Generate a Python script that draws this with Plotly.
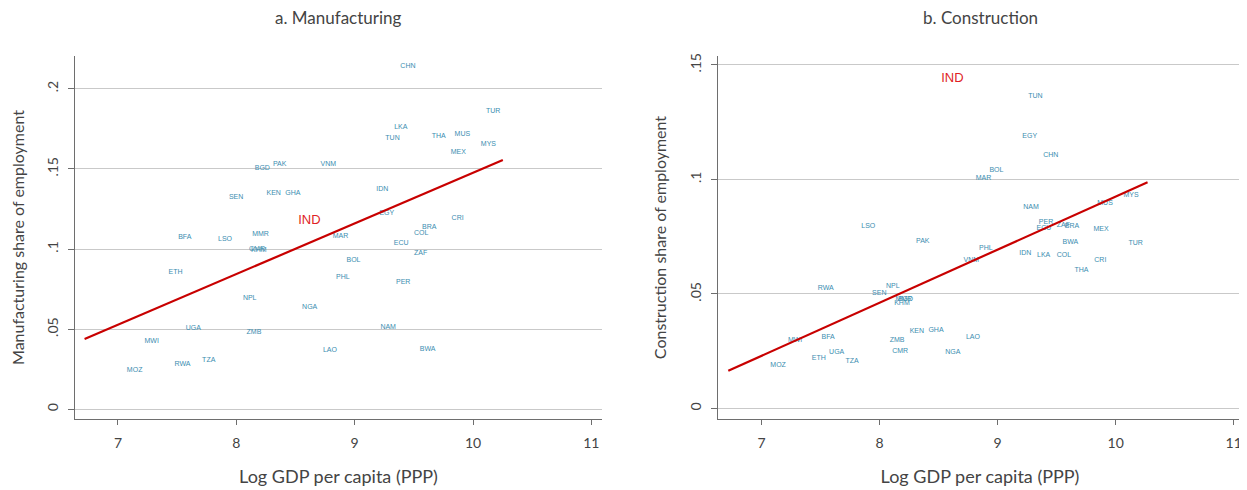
import plotly.graph_objects as go

# ---- data ----
countries = ["CHN", "TUR", "LKA", "TUN", "THA", "MUS", "MYS", "MEX", "IDN", "BGD",
             "PAK", "VNM", "SEN", "KEN", "GHA", "EGY", "BFA", "LSO", "MMR", "KHM",
             "CMR", "MAR", "ECU", "BRA", "COL", "CRI", "ZAF", "BOL", "PHL", "PER",
             "NGA", "NAM", "LAO", "BWA", "ETH", "NPL", "UGA", "ZMB", "MWI", "TZA",
             "RWA", "MOZ"]
log_gdp = [9.45, 10.17, 9.39, 9.32, 9.71, 9.91, 10.13, 9.876, 9.234, 8.22,
           8.366, 8.778, 7.998, 8.316, 8.478, 9.272, 7.565, 7.905, 8.205, 8.19,
           8.175, 8.88, 9.393, 9.63, 9.562, 9.87, 9.557, 8.99, 8.90, 9.41,
           8.62, 9.283, 8.791, 9.617, 7.486, 8.113, 7.637, 8.149, 7.285, 7.767,
           7.545, 7.141]
mfg_share = [0.2142, 0.1860, 0.1760, 0.1688, 0.1701, 0.1713, 0.1651, 0.1601, 0.1372, 0.1507,
             0.1532, 0.1526, 0.1326, 0.1351, 0.1351, 0.1223, 0.1071, 0.1064, 0.1092, 0.0992,
             0.0997, 0.1077, 0.1036, 0.1133, 0.1096, 0.1189, 0.0971, 0.0933, 0.0827, 0.0796,
             0.0640, 0.0515, 0.0366, 0.0372, 0.0858, 0.0696, 0.0509, 0.0484, 0.0428, 0.0309,
             0.0284, 0.0247]
con_share = [0.1104, 0.0722, 0.0668, 0.1365, 0.0604, 0.0895, 0.0930, 0.0781, 0.0677, 0.0476,
             0.0729, 0.0649, 0.0502, 0.0336, 0.0340, 0.1190, 0.0310, 0.0794, 0.0478, 0.0461,
             0.0249, 0.1004, 0.0789, 0.0794, 0.0668, 0.0648, 0.0800, 0.1039, 0.0698, 0.0811,
             0.0244, 0.0877, 0.0310, 0.0726, 0.0220, 0.0533, 0.0244, 0.0297, 0.0296, 0.0205,
             0.0524, 0.0188]

ind_label = ["IND"]
ind_log_gdp = [8.617]
ind_mfg = [0.1179]
ind_con = [0.1438]

mfg_fit_x = [6.718, 10.252]
mfg_fit_y = [0.0439, 0.1555]
con_fit_x = [6.719, 10.270]
con_fit_y = [0.01646, 0.0988]

x_ticks = [7, 8, 9, 10, 11]
mfg_yticks = [0, 0.05, 0.10, 0.15, 0.20]
mfg_yticklabels = ["0", ".05", ".1", ".15", ".2"]
con_yticks = [0, 0.05, 0.10, 0.15]
con_yticklabels = ["0", ".05", ".1", ".15"]

# ---- styles ----
FONT = "Lato, 'Open Sans', sans-serif"
LABEL_COLOR = "#3a8db0"
IND_COLOR = "#e01f26"
LINE_COLOR = "#c80000"
TEXT_COLOR = "#444444"
AXIS_COLOR = "#6e6e6e"
GRID_COLOR = "#c9c9c9"

fig = go.Figure()

for xa, ya, share, ind_y, fx, fy in [
    ("x", "y", mfg_share, ind_mfg, mfg_fit_x, mfg_fit_y),
    ("x2", "y2", con_share, ind_con, con_fit_x, con_fit_y),
]:
    fig.add_trace(go.Scatter(
        x=log_gdp, y=share, text=countries, mode="text",
        textposition="middle center",
        textfont=dict(family="Liberation Sans, Arial, sans-serif", size=7, color=LABEL_COLOR),
        xaxis=xa, yaxis=ya, showlegend=False, hoverinfo="skip"))
    fig.add_trace(go.Scatter(
        x=fx, y=fy, mode="lines", line=dict(color=LINE_COLOR, width=2.2),
        xaxis=xa, yaxis=ya, showlegend=False, hoverinfo="skip"))
    fig.add_trace(go.Scatter(
        x=ind_log_gdp, y=ind_y, text=ind_label, mode="text",
        textposition="middle center",
        textfont=dict(family="Liberation Sans, Arial, sans-serif", size=13, color=IND_COLOR),
        xaxis=xa, yaxis=ya, showlegend=False, hoverinfo="skip"))

common_x = dict(
    tickvals=x_ticks, ticks="outside", ticklen=5, tickcolor=AXIS_COLOR,
    showline=True, linecolor=AXIS_COLOR, linewidth=1, showgrid=False, zeroline=False,
    tickfont=dict(family=FONT, size=14, color=TEXT_COLOR), ticklabelstandoff=6,
    title=dict(text="Log GDP per capita (PPP)", font=dict(family=FONT, size=18, color=TEXT_COLOR),
               standoff=20),
    automargin=False,
)
common_y = dict(
    ticks="outside", ticklen=6, tickcolor=AXIS_COLOR, tickangle=-90,
    showline=True, linecolor=AXIS_COLOR, linewidth=1, showgrid=True,
    gridcolor=GRID_COLOR, gridwidth=1.3, zeroline=False,
    tickfont=dict(family=FONT, size=14, color=TEXT_COLOR), ticklabelstandoff=4,
    automargin=False,
)

# the page body adds an 8px offset, so the figure is 8px smaller and margins compensate
fig.update_layout(
    width=1239, height=482,
    margin=dict(l=67, r=5, t=48, b=71, autoexpand=False),
    paper_bgcolor="white", plot_bgcolor="white",
    font=dict(family=FONT, color=TEXT_COLOR),
    xaxis=dict(domain=[0, 0.4516], anchor="y", range=[6.637, 11.09], **common_x),
    xaxis2=dict(domain=[0.551, 1.0], anchor="y2", range=[6.632, 11.07], **common_x),
    yaxis=dict(domain=[0, 1], anchor="x", range=[-0.006, 0.2204],
               tickvals=mfg_yticks, ticktext=mfg_yticklabels,
               title=dict(text="Manufacturing share of employment",
                          font=dict(family=FONT, size=16, color=TEXT_COLOR), standoff=16),
               **common_y),
    yaxis2=dict(domain=[0, 1], anchor="x2", range=[-0.0046, 0.1539],
                tickvals=con_yticks, ticktext=con_yticklabels,
                title=dict(text="Construction share of employment",
                           font=dict(family=FONT, size=16, color=TEXT_COLOR), standoff=16),
                **common_y),
    annotations=[
        dict(text="a. Manufacturing", xref="x domain", yref="paper", x=0.5, y=1.1047,
             showarrow=False, xanchor="center", yanchor="middle",
             font=dict(family=FONT, size=17, color=TEXT_COLOR)),
        dict(text="b. Construction", xref="x2 domain", yref="paper", x=0.5, y=1.1047,
             showarrow=False, xanchor="center", yanchor="middle",
             font=dict(family=FONT, size=17, color=TEXT_COLOR)),
    ],
)

fig.write_html("out.html")
